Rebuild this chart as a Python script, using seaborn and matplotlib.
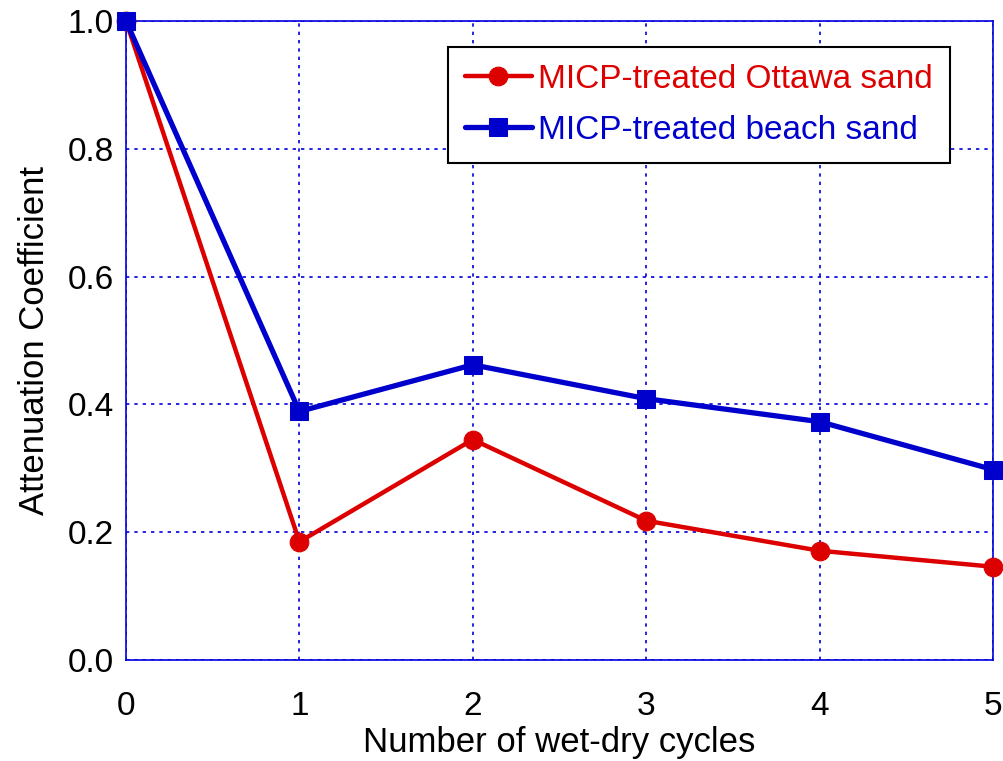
import numpy as np
import pandas as pd
import seaborn as sns
import matplotlib.pyplot as plt

# Values
cycles = [0, 1, 2, 3, 4, 5]
ottawa = [1.0, 0.185, 0.345, 0.218, 0.171, 0.146]
beach = [1.0, 0.389, 0.462, 0.409, 0.373, 0.298]

sns.set_style("white")
plt.rcParams['font.family'] = ['Liberation Sans', 'DejaVu Sans']
plt.rcParams['text.color'] = 'black'
plt.rcParams['axes.labelcolor'] = 'black'
plt.rcParams['xtick.color'] = 'black'
plt.rcParams['ytick.color'] = 'black'

fig = plt.figure(figsize=(10.04, 7.61), dpi=100)
ax = fig.add_axes([0.1255, 0.1327, 0.8635, 0.8397])

grid_blue = "#0000dd"
sns.lineplot(x=cycles, y=ottawa, ax=ax, color="#dd0000", lw=3.2, marker="o",
             markersize=13.5, markeredgecolor="#dd0000",
             label="MICP-treated Ottawa sand", zorder=4, clip_on=False)
sns.lineplot(x=cycles, y=beach, ax=ax, color="#0000cc", lw=3.8, marker="s",
             markersize=13, markeredgecolor="#0000cc",
             label="MICP-treated beach sand", zorder=5, clip_on=False)

ax.set_xlim(0, 5)
ax.set_ylim(0, 1.0)
ax.set_xticks(cycles)
ax.set_yticks(np.arange(0, 1.01, 0.2))
ax.set_yticklabels([f"{v:.1f}" for v in np.arange(0, 1.01, 0.2)])
ax.grid(True, color=grid_blue, linestyle=(0, (2, 3)), lw=1.2)
for s in ax.spines.values():
    s.set_color(grid_blue)
    s.set_linewidth(1.2)
ax.tick_params(direction="in", length=6, color=grid_blue, labelsize=24)
ax.tick_params(axis="x", pad=22)
ax.tick_params(axis="y", pad=9)
ax.set_xlabel("Number of wet-dry cycles", fontsize=25, labelpad=3)
ax.set_ylabel("Attenuation Coefficient", fontsize=25, labelpad=12)

leg = ax.legend(loc="upper right", bbox_to_anchor=(0.950, 0.959), borderaxespad=0,
                fontsize=24, frameon=True, fancybox=False, framealpha=1,
                edgecolor="black", handlelength=2.0, borderpad=0.5,
                labelspacing=0.6, handletextpad=0.2)
leg.get_frame().set_linewidth(1.5)
for txt, c in zip(leg.get_texts(), ["#dd0000", "#0000cc"]):
    txt.set_color(c)

plt.savefig("out.png", dpi=100)
